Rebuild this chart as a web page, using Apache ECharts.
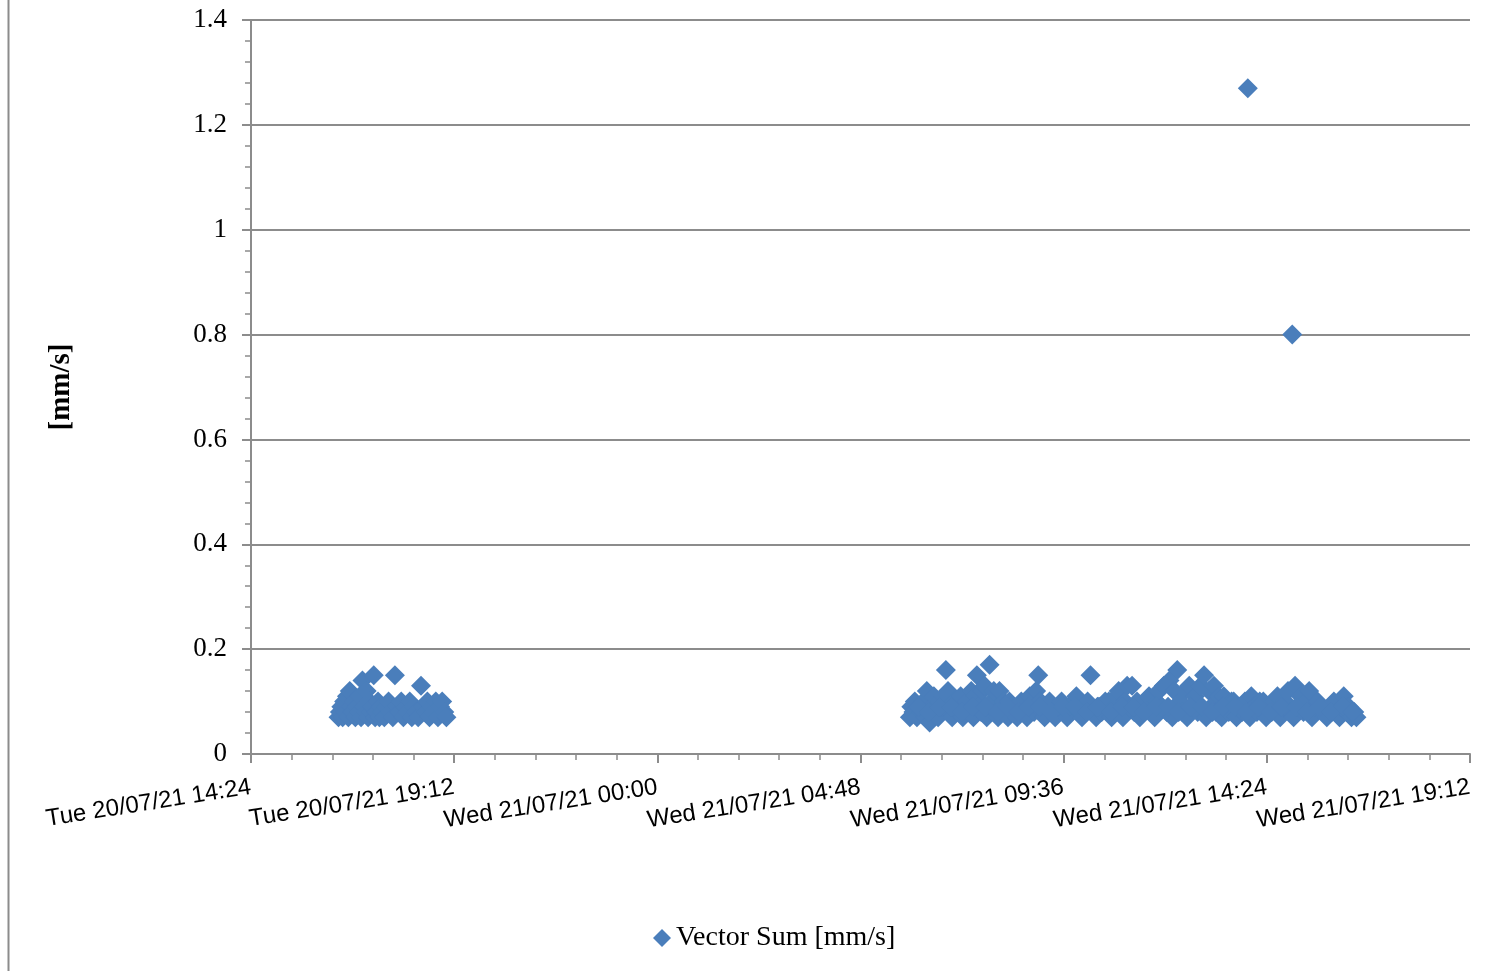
<!DOCTYPE html>
<html>
<head>
<meta charset="utf-8">
<script src="https://cdn.jsdelivr.net/npm/echarts@6/dist/echarts.min.js"></script>
<style>
html,body{margin:0;padding:0;background:#fff;}
#chart{width:1510px;height:971px;}
</style>
</head>
<body>
<div id="chart"></div>
<script>
// Tue 20/07/21 samples (hh:mm) and values [mm/s]
const day1Times = ['16:28','16:30','16:32','16:34','16:36','16:38','16:40','16:42','16:44','16:46','16:48','16:50','16:52','16:54','16:56','16:58','17:00','17:02','17:04','17:06','17:08','17:10','17:12','17:14','17:16','17:18','17:20','17:22','17:24','17:26','17:28','17:30','17:33','17:36','17:39','17:42','17:45','17:48','17:51','17:54','17:57','18:00','18:03','18:06','18:09','18:12','18:15','18:18','18:21','18:25','18:28','18:31','18:34','18:37','18:40','18:43','18:46','18:49','18:52','18:55','18:58','19:01'];
const day1Values = [0.07,0.08,0.09,0.07,0.10,0.08,0.11,0.07,0.12,0.09,0.08,0.10,0.07,0.09,0.08,0.11,0.07,0.14,0.09,0.08,0.12,0.07,0.10,0.08,0.09,0.15,0.07,0.08,0.10,0.07,0.09,0.08,0.07,0.09,0.10,0.08,0.07,0.15,0.09,0.08,0.10,0.07,0.09,0.08,0.10,0.07,0.09,0.08,0.07,0.13,0.09,0.08,0.10,0.07,0.09,0.08,0.10,0.07,0.09,0.10,0.08,0.07];

// Wed 21/07/21 samples (hh:mm) and values [mm/s]
const day2Times = ['05:58','06:00','06:03','06:05','06:08','06:11','06:14','06:17','06:20','06:22','06:26','06:29','06:32','06:35','06:38','06:41','06:44','06:46','06:49','06:52','06:55','06:58','07:01','07:04','07:07','07:10','07:13','07:16','07:19','07:22','07:25','07:28','07:31','07:33','07:36','07:39','07:41','07:44','07:47','07:51','07:54','07:57','08:00','08:03','08:05','08:08','08:11','08:14','08:17','08:19','08:22','08:26','08:30','08:33','08:36','08:40','08:44','08:48','08:51','08:54','08:57','09:00','09:03','09:06','09:09','09:12','09:16','09:20','09:24','09:28','09:33','09:37','09:41','09:45','09:50','09:54','09:58','10:02','10:06','10:10','10:14','10:18','10:22','10:26','10:30','10:35','10:40','10:44','10:48','10:51','10:54','10:57','11:00','11:03','11:06','11:09','11:13','11:16','11:20','11:24','11:28','11:32','11:37','11:41','11:45','11:48','11:51','11:55','11:58','12:02','12:06','12:10','12:13','12:17','12:21','12:24','12:28','12:31','12:34','12:38','12:42','12:46','12:50','12:55','12:58','13:02','13:05','13:09','13:12','13:16','13:20','13:23','13:27','13:30','13:34','13:37','13:41','13:45','13:49','13:53','13:57','14:00','14:02','14:06','14:10','14:14','14:19','14:23','14:27','14:31','14:35','14:39','14:43','14:47','14:50','14:54','14:57','15:00','15:02','15:04','15:08','15:12','15:16','15:20','15:24','15:28','15:32','15:36','15:41','15:45','15:49','15:53','15:59','16:03','16:07','16:10','16:13','16:17','16:20','16:24','16:28','16:31'];
const day2Values = [0.07,0.09,0.08,0.10,0.07,0.09,0.08,0.10,0.07,0.12,0.06,0.09,0.11,0.08,0.07,0.10,0.09,0.11,0.16,0.12,0.08,0.07,0.10,0.09,0.08,0.11,0.07,0.09,0.10,0.08,0.12,0.07,0.11,0.15,0.09,0.08,0.12,0.13,0.07,0.17,0.10,0.12,0.08,0.07,0.12,0.09,0.10,0.08,0.07,0.10,0.09,0.08,0.07,0.09,0.10,0.08,0.07,0.11,0.09,0.08,0.12,0.15,0.10,0.08,0.07,0.09,0.10,0.08,0.07,0.09,0.10,0.08,0.07,0.09,0.10,0.11,0.08,0.07,0.09,0.10,0.15,0.08,0.07,0.09,0.08,0.10,0.10,0.07,0.09,0.11,0.12,0.08,0.07,0.10,0.13,0.09,0.13,0.08,0.10,0.07,0.09,0.10,0.11,0.08,0.07,0.10,0.12,0.09,0.13,0.08,0.14,0.07,0.12,0.16,0.10,0.08,0.12,0.07,0.13,0.09,0.11,0.08,0.13,0.15,0.07,0.12,0.09,0.13,0.08,0.11,0.07,0.11,0.09,0.08,0.10,0.10,0.07,0.09,0.08,0.10,1.27,0.07,0.11,0.09,0.08,0.10,0.10,0.07,0.09,0.08,0.10,0.11,0.07,0.09,0.10,0.12,0.08,0.80,0.07,0.13,0.09,0.11,0.08,0.10,0.12,0.07,0.09,0.10,0.09,0.08,0.07,0.09,0.10,0.08,0.07,0.09,0.11,0.08,0.09,0.07,0.08,0.07];

// Extra baseline samples of Wed 21/07/21 filling the dense band
const day2BaseTimes = ['06:10','06:24','06:40','06:57','07:12','07:27','07:45','08:02','08:16','08:32','08:46','09:02','09:18','09:35','09:52','10:08','10:24','10:42','10:59','11:15','11:30','11:47','12:04','12:19','12:36','12:52','13:07','13:22','13:39','13:55','14:12','14:29','14:45','15:06','15:22','15:39','15:56','16:12','16:26'];
const day2BaseValues = [0.09,0.08,0.09,0.09,0.08,0.09,0.09,0.08,0.09,0.08,0.09,0.09,0.08,0.09,0.09,0.08,0.09,0.08,0.09,0.09,0.08,0.09,0.09,0.08,0.09,0.09,0.08,0.09,0.09,0.08,0.09,0.08,0.09,0.09,0.08,0.09,0.08,0.09,0.08];

// X axis: hours since Tue 20/07/21 00:00
const xTickLabels = ['Tue 20/07/21 14:24','Tue 20/07/21 19:12','Wed 21/07/21 00:00','Wed 21/07/21 04:48','Wed 21/07/21 09:36','Wed 21/07/21 14:24','Wed 21/07/21 19:12'];
const xMin = 14.4, xMax = 43.2, xStep = 4.8;
const yMin = 0, yMax = 1.4, yStep = 0.2;
const seriesName = 'Vector Sum [mm/s]';
const yAxisName = '[mm/s]';

function toHours(t, dayOffset){
  const p = t.split(':');
  return dayOffset + Number(p[0]) + Number(p[1]) / 60;
}
const points = [];
day1Times.forEach((t,i)=>points.push([toHours(t,0), day1Values[i]]));
day2Times.forEach((t,i)=>points.push([toHours(t,24), day2Values[i]]));
day2BaseTimes.forEach((t,i)=>points.push([toHours(t,24), day2BaseValues[i]]));

const gray = '#8c8c8c';
const chart = echarts.init(document.getElementById('chart'), null, {renderer:'canvas'});
chart.setOption({
  animation: false,
  backgroundColor: '#ffffff',
  grid: {left: 251, right: 40, top: 20, bottom: 217, containLabel: false},
  graphic: [{
    type: 'line', shape: {x1: 8.5, y1: 0, x2: 8.5, y2: 971},
    style: {stroke: gray, lineWidth: 2}
  }],
  legend: {
    data: [{name: seriesName, icon: 'diamond'}],
    left: 648, top: 919,
    itemWidth: 18, itemHeight: 18, itemGap: 5,
    textStyle: {fontFamily: 'Liberation Serif, DejaVu Serif, serif', fontSize: 28, color: '#000'}
  },
  xAxis: {
    type: 'value', min: xMin, max: xMax, interval: xStep,
    axisLine: {show: true, onZero: false, lineStyle: {color: gray, width: 2}},
    axisTick: {show: true, length: 9, lineStyle: {color: gray, width: 2}},
    minorTick: {show: true, splitNumber: 5, length: 6, lineStyle: {color: gray, width: 1.5}},
    splitLine: {show: false},
    axisLabel: {
      rotate: 9, margin: 33,
      fontFamily: 'Liberation Sans, Arial, sans-serif', fontSize: 24, color: '#000',
      formatter: function(v){ return xTickLabels[Math.round((v - xMin) / xStep)] || ''; }
    }
  },
  yAxis: {
    type: 'value', min: yMin, max: yMax, interval: yStep,
    name: yAxisName, nameLocation: 'middle', nameGap: 175, nameRotate: 90,
    nameTextStyle: {fontFamily: 'Liberation Serif, DejaVu Serif, serif', fontSize: 29, fontWeight: 'bold', color: '#000'},
    axisLine: {show: true, lineStyle: {color: gray, width: 2}},
    axisTick: {show: true, length: 9, lineStyle: {color: gray, width: 2}},
    minorTick: {show: true, splitNumber: 5, length: 6, lineStyle: {color: gray, width: 1.5}},
    splitLine: {show: true, lineStyle: {color: gray, width: 2}},
    axisLabel: {
      margin: 24,
      fontFamily: 'Liberation Serif, DejaVu Serif, serif', fontSize: 27, color: '#000'
    }
  },
  series: [{
    name: seriesName,
    type: 'scatter',
    symbol: 'diamond',
    symbolSize: 20,
    itemStyle: {color: '#4A7EBB', opacity: 1},
    data: points
  }]
});
</script>
</body>
</html>
